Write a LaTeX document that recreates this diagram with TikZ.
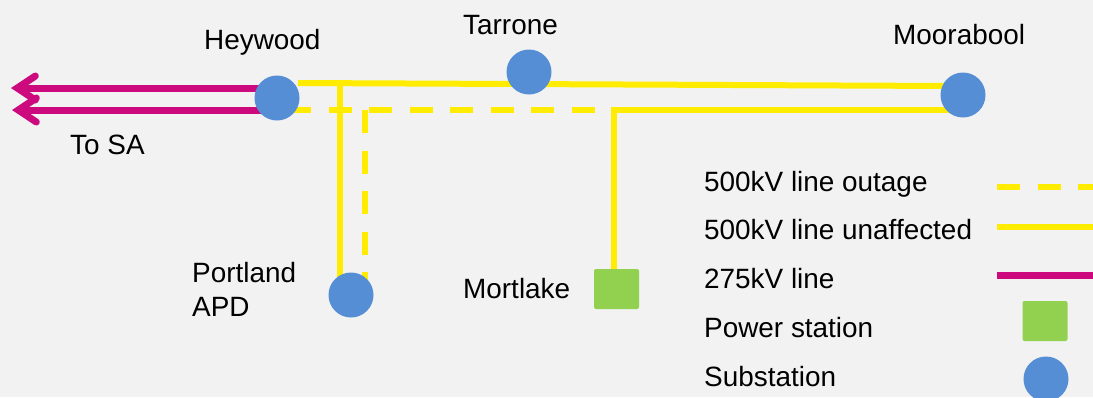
\documentclass[tikz,border=0pt]{standalone}
\usepackage{fontspec}
\setmainfont{Liberation Sans}
\usetikzlibrary{arrows.meta,backgrounds}
\definecolor{bgc}{HTML}{F2F2F2}
\definecolor{lineY}{HTML}{FFEC00}
\definecolor{lineM}{HTML}{CC0A7D}
\definecolor{subB}{HTML}{558ED5}
\definecolor{powG}{HTML}{92D050}
\tikzset{
  x=1pt,y=-1pt,
  substation/.style={circle,fill=subB,draw=none,minimum size=45pt,inner sep=0pt},
  powerstation/.style={rectangle,fill=powG,draw=none,minimum width=45pt,minimum height=40pt,inner sep=0pt,rounded corners=2pt},
  lbl/.style={anchor=base west,inner sep=0pt,font=\fontsize{27.9pt}{33pt}\selectfont,text=black},
  solidY/.style={draw=lineY,line width=6pt},
  dashY/.style={draw=lineY,line width=6pt,dash pattern=on 23pt off 17.5pt},
  lineK/.style={draw=lineM,line width=7pt},
  toSA/.style={lineK,-{Straight Barb[line cap=round,line join=miter,length=18pt,width=24pt]}},
}
\begin{document}
\begin{tikzpicture}
\useasboundingbox (0,0) rectangle (1093,397);
% nodes
\node[substation] (heywood) at (277,98) {};
\node[substation] (tarrone) at (529,72) {};
\node[substation] (moorabool) at (963,95) {};
\node[substation] (portland) at (351,295) {};
\node[powerstation] (mortlake) at (616.5,289) {};
\node[powerstation,minimum height=40pt] (legPS) at (1045,321) {};
\node[substation] (legSS) at (1046,379) {};
% labels
\node[lbl] (tHeywood) at (204,49) {Heywood};
\node[lbl] (tTarrone) at (463,34) {Tarrone};
\node[lbl] (tMoorabool) at (893,44) {Moorabool};
\node[lbl] (tToSA) at (70,154) {To SA};
\node[lbl] (tPortland) at (192,282) {Portland};
\node[lbl] (tAPD) at (192,316) {APD};
\node[lbl] (tMortlake) at (463,298) {Mortlake};
\node[lbl] (l1) at (704,191) {500kV line outage};
\node[lbl] (l2) at (704,239) {500kV line unaffected};
\node[lbl] (l3) at (704,288) {275kV line};
\node[lbl] (l4) at (704,337) {Power station};
\node[lbl] (l5) at (704,386) {Substation};
% connector ends
\coordinate (hT) at (298,83);
\coordinate (mT) at (950,86);
\coordinate (hB) at (288,110);
\coordinate (jM) at (612,110);
\coordinate (mB) at (950,110);
\coordinate (jS) at (340,83.5);
\coordinate (pS) at (340,285);
\coordinate (jD) at (365,110);
\coordinate (pD) at (365,290);
\coordinate (jV) at (614,107);
\coordinate (aU) at (11,88);
\coordinate (aL) at (12,110);
\coordinate (hU) at (270,88);
\coordinate (hL) at (270,110);
\coordinate (a1) at (997,187);
\coordinate (b1) at (1093,187);
\coordinate (a2) at (997,227);
\coordinate (b2) at (1093,227);
\coordinate (a3) at (997,275);
\coordinate (b3) at (1093,275);
\begin{scope}[on background layer]
\fill[bgc] (0,0) rectangle (1093,397);
\draw[solidY] (hT) -- (mT);
\draw[solidY] (jS) -- (pS);
\draw[dashY] (hB) -- (jM);
\draw[dashY] (jD) -- (pD);
\draw[solidY] (jM) -- (mB);
\draw[solidY] (jV) -- (jV |- mortlake);
\draw[toSA] (hU) -- (aU);
\draw[toSA] (hL) -- (aL);
\draw[dashY] (a1) -- (b1);
\draw[solidY] (a2) -- (b2);
\draw[lineK] (a3) -- (b3);
\end{scope}
\end{tikzpicture}
\end{document}
